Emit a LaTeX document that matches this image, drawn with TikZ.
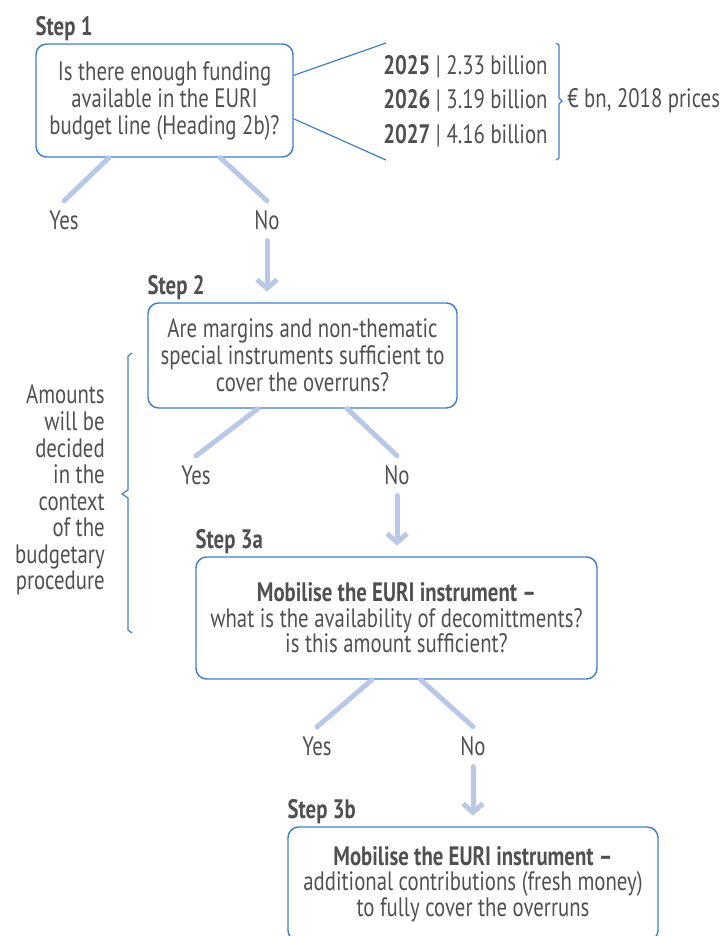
\documentclass[tikz,border=0pt]{standalone}
\usepackage{fontspec}
\setmainfont{PT Sans}[FakeStretch=0.78]
\usetikzlibrary{arrows.meta,calc,positioning}
\definecolor{txtgrey}{RGB}{80,80,80}
\definecolor{boxblue}{RGB}{64,126,200}
\definecolor{linkblue}{RGB}{186,200,232}
\def\px{0.75pt}
\def\fsz{\fontsize{20}{20.25}\selectfont}
\tikzset{
  qbox/.style={draw=boxblue, line width=1.1pt, rounded corners=8pt, align=center,
    text=txtgrey, font=\fsz, inner sep=0pt},
  steplbl/.style={text=txtgrey, font=\fsz\bfseries, inner sep=0pt},
  answer/.style={text=txtgrey, font=\fsz, inner sep=0pt},
  branch/.style={draw=linkblue, line width=3.75pt, line cap=round},
  goarrow/.style={branch, -{Straight Barb[length=6.5pt,width=15pt]}},
  bracelink/.style={draw=boxblue, line width=0.9pt},
}
\begin{document}
\begin{tikzpicture}[x=\px, y=-\px]
\useasboundingbox (0,0) rectangle (723,936);
\clip (0,0) rectangle (723,936);
% step 1
\node[qbox, minimum width=257*\px, minimum height=113*\px] (q1) at (164.5,100.5)
  {Is there enough funding\\available in the EURI\\budget line (Heading 2b)?};
\node[steplbl, above right=2pt and 0pt of q1.north west] (s1) {Step 1};
\node[answer] (yes1) at (64,220) {Yes};
\node[answer] (no1) at (267,220) {No};
\draw[branch] ($(q1.south west)!0.285!(q1.south east)$) -- ([yshift=7pt]yes1.north);
\draw[branch] ($(q1.south west)!0.716!(q1.south east)$) -- ([yshift=7pt]no1.north);
% yearly amounts
\node[anchor=west, align=left, text=txtgrey, inner sep=0pt,
  font=\fontsize{20}{25.9}\selectfont] (amt) at (383,101)
  {\textbf{2025} | 2.33 billion\\\textbf{2026} | 3.19 billion\\\textbf{2027} | 4.16 billion};
\coordinate (amttop) at (386,43);
\coordinate (amtbot) at (386,160);
\draw[bracelink] ($(q1.north east)!0.28!(q1.south east)$) -- (amttop);
\draw[bracelink] ($(q1.north east)!0.66!(q1.south east)$) -- (amtbot);
\draw[bracelink] (556,43) -- (559,45) -- (559,98) -- (562,101) -- (559,104) -- (559,158) -- (556,160);
\node[anchor=west, text=txtgrey, font=\fsz, inner sep=0pt] (unit) at (567,101) {€ bn, 2018 prices};
% step 2
\node[qbox, minimum width=309*\px, minimum height=105*\px] (q2) at (302.5,355.5)
  {Are margins and non-thematic\\special instruments sufficient to\\cover the overruns?};
\node[steplbl, above right=2pt and 0pt of q2.north west] (s2) {Step 2};
\draw[goarrow, shorten >=8pt] ([yshift=-8pt]no1.south) -- (no1.south |- q2.north);
\node[answer] (yes2) at (196,475) {Yes};
\node[answer] (no2) at (397,475) {No};
\draw[branch] ($(q2.south west)!0.356!(q2.south east)$) -- ([yshift=7pt]yes2.north);
\draw[branch] ($(q2.south west)!0.644!(q2.south east)$) -- ([yshift=7pt]no2.north);
% budgetary procedure
\draw[bracelink] (132,353) -- (128,356) -- (128,490) -- (122,494) -- (128,498) -- (128,630) -- (132,633);
\node[anchor=east, align=right, text=txtgrey, inner sep=0pt,
  font=\fontsize{20}{19.9}\selectfont] (proc) at (105,490)
  {Amounts\\will be\\decided\\in the\\context\\of the\\budgetary\\procedure};
% step 3a
\node[qbox, minimum width=401*\px, minimum height=122*\px, font=\fontsize{20}{19.2}\selectfont] (q3a) at (396.5,618)
  {\textbf{Mobilise the EURI instrument –}\\what is the availability of decomittments?\\is this amount sufficient?};
\node[steplbl, above right=2pt and 0pt of q3a.north west] (s3a) {Step 3a};
\draw[goarrow, shorten >=8pt] ([yshift=-8pt]no2.south) -- (no2.south |- q3a.north);
\node[answer] (yes3) at (317,746) {Yes};
\node[answer] (no3) at (473,746) {No};
\draw[branch] ($(q3a.south west)!0.439!(q3a.south east)$) -- ([yshift=7pt]yes3.north);
\draw[branch] ($(q3a.south west)!0.56!(q3a.south east)$) -- ([yshift=7pt]no3.north);
% step 3b
\node[qbox, minimum width=370*\px, minimum height=114*\px, font=\fontsize{20}{19.2}\selectfont] (q3b) at (473,884)
  {\textbf{Mobilise the EURI instrument –}\\additional contributions (fresh money)\\to fully cover the overruns};
\node[steplbl, above right=2pt and 0pt of q3b.north west] (s3b) {Step 3b};
\draw[goarrow, shorten >=8pt] ([yshift=-8pt]no3.south) -- (no3.south |- q3b.north);
\end{tikzpicture}
\end{document}
